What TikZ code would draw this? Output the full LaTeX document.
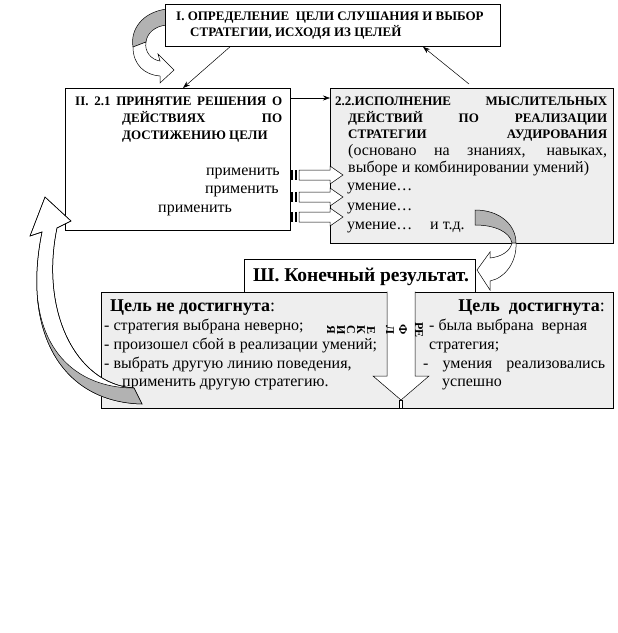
\documentclass[tikz,border=0pt]{standalone}
\usepackage{fontspec}
\setmainfont{Liberation Serif}
\usetikzlibrary{arrows.meta}
\definecolor{lg}{RGB}{238,238,238}
\definecolor{rib}{RGB}{178,178,178}
\begin{document}
\begin{tikzpicture}[x=1pt,y=-1pt,
  bx/.style={draw,line width=0.8pt,inner sep=0pt,anchor=north west},
  hd/.style={anchor=base west,inner sep=0pt,font=\fontsize{13}{15}\selectfont\bfseries},
  tx/.style={anchor=base west,inner sep=0pt,font=\fontsize{16}{18}\selectfont},
  txr/.style={tx,anchor=base east},
  bt/.style={anchor=base west,inner sep=0pt,font=\fontsize{18}{20}\selectfont},
  vt/.style={inner sep=0pt,rotate=-90,font=\fontsize{12}{14}\selectfont\bfseries},
  thinl/.style={line width=0.5pt},
  tip/.style={-{Stealth[length=7pt,width=5pt]},line width=0.5pt},
  ribbon/.style={draw,line width=0.5pt,fill=white},
  gribbon/.style={draw,line width=0.5pt,fill=rib},
]
\useasboundingbox (0,0) rectangle (618,633);

% curved arrow top-left (behind box I)
\path[gribbon] (167,9) .. controls (142,12) and (130,30) .. (133,47) -- (146,42) .. controls (147,33) and (155,26) .. (167,25) -- cycle;
\path[ribbon] (133,47) .. controls (133,65) and (145,75) .. (160,76) -- (160,83) -- (174,70) -- (158,54) -- (160,61) .. controls (152,60) and (144,52) .. (146,42) -- cycle;

% Box I
\node[bx,fill=white,minimum width=335pt,minimum height=42pt] (b1) at (165,4) {};
\node[hd] (t1a) at (176,20) {I. ОПРЕДЕЛЕНИЕ\ \ ЦЕЛИ СЛУШАНИЯ И ВЫБОР};
\node[hd] (t1b) at (190,36) {СТРАТЕГИИ, ИСХОДЯ ИЗ ЦЕЛЕЙ};

% Box II
\node[bx,fill=white,minimum width=225pt,minimum height=142pt] (b2) at (65,88) {};
\node[hd] (t2a) at (75,105) {\makebox[207pt][s]{II. 2.1 ПРИНЯТИЕ РЕШЕНИЯ О}};
\node[hd] (t2b) at (122,122) {\makebox[160pt][s]{ДЕЙСТВИЯХ ПО}};
\node[hd] (t2c) at (122,139) {ДОСТИЖЕНИЮ ЦЕЛИ};
\node[txr] (p1) at (280,175) {применить};
\node[txr] (p2) at (279,193) {применить};
\node[tx] (p3) at (158,212) {применить};

% Box 2.2
\node[bx,fill=lg,minimum width=283pt,minimum height=155pt] (b22) at (330,88) {};
\node[hd] (t22a) at (335,105) {\makebox[272pt][s]{2.2.ИСПОЛНЕНИЕ МЫСЛИТЕЛЬНЫХ}};
\node[hd] (t22b) at (348,122) {\makebox[259pt][s]{ДЕЙСТВИЙ ПО РЕАЛИЗАЦИИ}};
\node[hd] (t22c) at (348,138) {\makebox[259pt][s]{СТРАТЕГИИ АУДИРОВАНИЯ}};
\node[tx] (t22d) at (348,155) {\makebox[259pt][s]{(основано на знаниях, навыках,}};
\node[tx] (t22e) at (348,172) {выборе и комбинировании умений)};
\node[tx] (u1) at (347,190) {умение…};
\node[tx] (u2) at (347,210) {умение…};
\node[tx] (u3) at (347,229) {умение…};
\node[tx] (etc) at (430,229) {и т.д.};

% straight arrows
\draw[tip] ([yshift=-10pt]b2.north east) -- ([yshift=-10pt]b22.north west);
\draw[tip] ([xshift=65pt]b1.south west) -- ([xshift=118pt]b2.north west);
\draw[tip] ([xshift=139pt,yshift=4pt]b22.north west) -- ([xshift=258pt]b1.south west);

% striped block arrows
\foreach \yy in {175,197,217} {
  \path[draw,fill=white,thinl] (299,\yy-5) -- (330,\yy-5) -- (330,\yy-9) -- (343,\yy) -- (330,\yy+9) -- (330,\yy+5) -- (299,\yy+5) -- cycle;
  \fill (291,\yy-5) rectangle (293,\yy+5);
  \fill (295,\yy-5) rectangle (297,\yy+5);
}

% Box III
\node[bx,fill=white,minimum width=231pt,minimum height=33pt] (b3) at (244,259) {};
\node[inner sep=0pt,anchor=base,font=\fontsize{19.5}{21}\selectfont\bfseries] (t3) at (361,281) {Ш. Конечный результат.};

% right curved arrow
\path[gribbon] (475,210) .. controls (500,210) and (516,225) .. (516,243) -- (512,243) .. controls (510,232) and (495,225) .. (475,225) -- cycle;
\path[ribbon] (512,243) .. controls (510,252) and (500,257) .. (490,258) -- (490,252) -- (477,270) -- (490,290) -- (490,281) .. controls (505,278) and (517,262) .. (516,243) -- cycle;

% lower box
\node[bx,fill=lg,minimum width=512pt,minimum height=116pt] (b4) at (101,292) {};
\node[bt] (g1) at (110,311) {\textbf{Цель не достигнута}:};
\node[tx] (l1) at (104,330) {- стратегия выбрана неверно;};
\node[tx] (l2) at (104,349) {- произошел сбой в реализации умений;};
\node[tx] (l3) at (104,368) {- выбрать другую линию поведения,};
\node[tx] (l4) at (122,386) {применить другую стратегию.};
\node[bt,anchor=base east] (g2) at (605,311) {\textbf{Цель\ \ достигнута}:};
\node[tx] (r1) at (429,330) {- была выбрана\ \ верная};
\node[tx] (r2) at (429,349) {стратегия;};
\node[tx] (r3) at (423,368) {\makebox[182pt][s]{- умения реализовались}};
\node[tx] (r4) at (442,386) {успешно};

% big down arrow
\fill[white] (387,291.5) -- (387,376) -- (373,376) -- (401,400) -- (429,376) -- (415,376) -- (415,291.5) -- cycle;
\draw[thinl] (387,291.5) -- (387,376) -- (373,376) -- (401,400) -- (429,376) -- (415,376) -- (415,291.5);
\draw[thinl,fill=white] (399.5,400) rectangle (402.5,408);

% vertical text
\node[vt] (v1) at (419,330) {РЕ};
\node[vt] (v2) at (403,330) {Ф};
\node[vt] (v3) at (390,330) {Л};
\node[vt] (v4) at (371,330) {Е};
\node[vt] (v5) at (361,330) {К};
\node[vt] (v6) at (351,330) {С};
\node[vt] (v7) at (341,330) {И};
\node[vt] (v8) at (331,330) {Я};

% bottom-left curved arrow
\path[ribbon] (134,388) .. controls (75,384) and (40,310) .. (57,228) -- (71,221) -- (45,197) -- (30,236) -- (42,232) .. controls (22,330) and (60,402) .. (142,404) -- cycle;
\begin{scope}
  \clip (134,388) .. controls (75,384) and (40,310) .. (57,228) -- (71,221) -- (45,197) -- (30,236) -- (42,232) .. controls (22,330) and (60,402) .. (142,404) -- cycle;
  \fill[rib] (0,300) -- (37.7,300) .. controls (45,360) and (85,388) .. (134,388) -- (160,420) -- (0,420) -- cycle;
\end{scope}
\draw[thinl] (37.7,300) .. controls (45,360) and (85,388) .. (134,388);
\draw[thinl] (134,388) .. controls (75,384) and (40,310) .. (57,228) -- (71,221) -- (45,197) -- (30,236) -- (42,232) .. controls (22,330) and (60,402) .. (142,404) -- cycle;
\end{tikzpicture}
\end{document}
